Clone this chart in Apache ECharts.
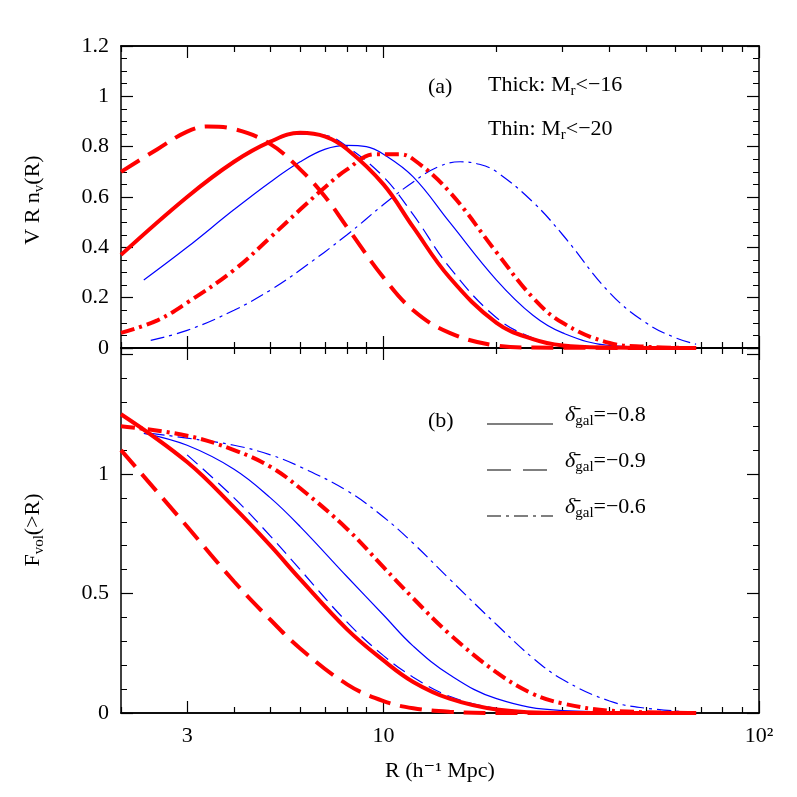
<!DOCTYPE html>
<html><head><meta charset="utf-8">
<script src="https://cdn.jsdelivr.net/npm/echarts@6/dist/echarts.min.js"></script>
<style>body{margin:0}#main{width:797px;height:797px}</style></head>
<body><div id="main"></div>
<script>
// R values (h^-1 Mpc) and curve values
var topRedSolidR = [2,3,4,5,6,7,8,10,12,15,20,25,30,40,68];
var topRedSolid  = [0.37,0.6,0.74,0.82,0.855,0.84,0.79,0.65,0.48,0.28,0.1,0.035,0.01,0.002,0];
var topRedDashR = [2,2.5,3,3.4,4,5,6,7,8,10,12,15,20,25,68];
var topRedDash  = [0.7,0.79,0.86,0.88,0.87,0.81,0.71,0.6,0.48,0.28,0.15,0.06,0.01,0.002,0];
var topRedDotR = [2,2.5,3,4,5,6,7,8,9.5,11,12,15,20,25,30,40,50,68];
var topRedDot  = [0.06,0.11,0.18,0.31,0.44,0.55,0.64,0.71,0.77,0.77,0.75,0.62,0.38,0.2,0.1,0.02,0.005,0];
var topBlueSolidR = [2.3,3,4,5,6,7,8,9,10,12,15,20,25,30,40,68];
var topBlueSolid  = [0.27,0.4,0.55,0.66,0.74,0.79,0.805,0.8,0.77,0.68,0.5,0.27,0.13,0.06,0.01,0];
var topBlueDashR = [3,4,5,6,7,8,10,12,15,20,25,30,40];
var topBlueDash  = [0.6,0.74,0.82,0.85,0.845,0.8,0.68,0.53,0.32,0.12,0.04,0.01,0.001];
var topBlueDotR = [2.4,3,4,5,6,8,10,12,14,16,18,20,25,30,40,50,60,68];
var topBlueDot  = [0.03,0.07,0.15,0.23,0.31,0.45,0.57,0.66,0.72,0.74,0.73,0.7,0.58,0.45,0.22,0.1,0.04,0.015];

var botRedSolidR = [2,3,4,5,6,8,10,12,15,20,30,68];
var botRedSolid  = [1.25,1.05,0.86,0.7,0.56,0.35,0.22,0.13,0.06,0.015,0,0];
var botRedDashR = [2,3,4,5,6,8,10,12,15,20,68];
var botRedDash  = [1.1,0.78,0.55,0.39,0.27,0.12,0.05,0.02,0.005,0,0];
var botRedDotR = [2,3,4,5,6,8,10,12,15,20,25,30,40,68];
var botRedDot  = [1.2,1.16,1.1,1.03,0.94,0.77,0.61,0.48,0.33,0.17,0.08,0.04,0.01,0];
var botBlueSolidR = [2.3,3,4,5,6,8,10,12,15,20,30,68];
var botBlueSolid  = [1.17,1.12,1.02,0.9,0.78,0.57,0.41,0.28,0.16,0.06,0.01,0];
var botBlueDashR = [3,4,5,6,8,10,12,15,20,30,68];
var botBlueDash  = [1.08,0.9,0.74,0.6,0.38,0.24,0.15,0.07,0.02,0,0];
var botBlueDotR = [2.4,3,4,5,6,8,10,12,15,20,25,30,40,50,68];
var botBlueDot  = [1.17,1.15,1.12,1.08,1.03,0.93,0.82,0.71,0.56,0.37,0.23,0.14,0.05,0.02,0.003];

var xMajor = [3, 10, 100];
var xMajorLabels = ['3', '10', '10²'];
var xMinor = [2,4,5,6,7,8,9,20,30,40,50,60,70,80,90];

var lg = Math.log10;
var FONT = '"Liberation Serif", "DejaVu Serif", serif';
var RED = '#ff0000', BLUE = '#0000ff';
var DOT = [14, 5, 3, 5], DASH = [22, 10], TDASH = [14, 7];
var SUB = { font: '15px ' + FONT, padding: [12, 0, 0, 0] };

function pts(r, v) { return r.map(function (x, i) { return [lg(x), v[i]]; }); }
function line(g, r, v, color, w, type) {
  return { type: 'line', xAxisIndex: g * 2, yAxisIndex: g * 2, data: pts(r, v), smooth: 0.4,
    showSymbol: false, silent: true, lineStyle: { color: color, width: w, type: type } };
}
function xax(g, pos, minor) {
  var vals = (minor ? xMinor : xMajor).map(lg);
  return { type: 'value', gridIndex: g, position: pos, min: lg(2), max: lg(100),
    axisLine: { show: true, onZero: false, lineStyle: { color: '#000', width: 1.5 } },
    splitLine: { show: false },
    axisTick: { inside: true, length: minor ? 6 : 12, customValues: vals, lineStyle: { color: '#000', width: 1.2 } },
    axisLabel: { show: g === 1 && pos === 'bottom' && !minor, customValues: xMajor.map(lg), margin: 12,
      color: '#000', fontFamily: FONT, fontSize: 22,
      formatter: function (v) { var i = xMajor.map(lg).findIndex(function (m) { return Math.abs(m - v) < 1e-6; }); return i >= 0 ? xMajorLabels[i] : ''; } } };
}
function yax(g, pos, max, interval, split, labels) {
  return { type: 'value', gridIndex: g, position: pos, min: 0, max: max, interval: interval,
    axisLine: { show: true, onZero: false, lineStyle: { color: '#000', width: 1.5 } },
    splitLine: { show: false },
    axisTick: { inside: true, length: 12, lineStyle: { color: '#000', width: 1.2 } },
    minorTick: { show: true, splitNumber: split, length: 6, lineStyle: { color: '#000' } },
    axisLabel: { show: labels, color: '#000', fontFamily: FONT, fontSize: 22, margin: 12,
      formatter: function (v) { return (g === 1 && v > 1.4) ? '' : String(+v.toFixed(1)); } } };
}
function legendText(y, txt) {
  return { type: 'text', left: 565, top: y, style: { text: '{d|δ̄}{s|gal}=−' + txt, font: '22px ' + FONT, fill: '#000',
    rich: { d: { font: 'italic 22px ' + FONT }, s: SUB } } };
}

var chart = echarts.init(document.getElementById('main'));
var option = {
  animation: false,
  grid: [
    { left: 121, right: 38, top: 46, height: 302 },
    { left: 121, right: 38, top: 348, height: 365 }
  ],
  xAxis: [xax(0, 'bottom', false), xax(0, 'top', false), xax(1, 'bottom', false), xax(1, 'top', false),
          xax(0, 'bottom', true), xax(0, 'top', true), xax(1, 'bottom', true), xax(1, 'top', true)],
  yAxis: [yax(0, 'left', 1.2, 0.2, 4, true), yax(0, 'right', 1.2, 0.2, 4, false),
          yax(1, 'left', 1.527, 0.5, 5, true), yax(1, 'right', 1.527, 0.5, 5, false)],
  series: [
    line(0, topBlueSolidR, topBlueSolid, BLUE, 1.2, 'solid'),
    line(0, topBlueDashR, topBlueDash, BLUE, 1.2, TDASH),
    line(0, topBlueDotR, topBlueDot, BLUE, 1.2, DOT),
    line(0, topRedSolidR, topRedSolid, RED, 4, 'solid'),
    line(0, topRedDashR, topRedDash, RED, 4, DASH),
    line(0, topRedDotR, topRedDot, RED, 4, DOT),
    line(1, botBlueSolidR, botBlueSolid, BLUE, 1.2, 'solid'),
    line(1, botBlueDashR, botBlueDash, BLUE, 1.2, TDASH),
    line(1, botBlueDotR, botBlueDot, BLUE, 1.2, DOT),
    line(1, botRedSolidR, botRedSolid, RED, 4, 'solid'),
    line(1, botRedDashR, botRedDash, RED, 4, DASH),
    line(1, botRedDotR, botRedDot, RED, 4, DOT)
  ],
  graphic: [
    { type: 'text', left: 428, top: 76, style: { text: '(a)', font: '22px ' + FONT, fill: '#000' } },
    { type: 'text', left: 488, top: 74, style: { text: 'Thick: M{s|r}<−16', font: '22px ' + FONT, fill: '#000', rich: { s: SUB } } },
    { type: 'text', left: 488, top: 118, style: { text: 'Thin: M{s|r}<−20', font: '22px ' + FONT, fill: '#000', rich: { s: SUB } } },
    { type: 'text', left: 428, top: 410, style: { text: '(b)', font: '22px ' + FONT, fill: '#000' } },
    { type: 'line', shape: { x1: 487, y1: 424, x2: 553, y2: 424 }, style: { stroke: '#000', lineWidth: 1.2 } },
    { type: 'line', shape: { x1: 487, y1: 470, x2: 553, y2: 470 }, style: { stroke: '#000', lineWidth: 1.2, lineDash: [24, 12] } },
    { type: 'line', shape: { x1: 487, y1: 516, x2: 553, y2: 516 }, style: { stroke: '#000', lineWidth: 1.2, lineDash: [14, 5, 3, 5] } },
    legendText(404, '0.8'), legendText(450, '0.9'), legendText(496, '0.6'),
    { type: 'text', x: 440, y: 760, style: { text: 'R (h⁻¹ Mpc)', font: '22px ' + FONT, fill: '#000', align: 'center' } },
    { type: 'text', x: 20, y: 200, rotation: Math.PI / 2, style: { text: 'V R n{s|v}(R)', font: '22px ' + FONT, fill: '#000', align: 'center',
        verticalAlign: 'top', rich: { s: SUB } } },
    { type: 'text', x: 20, y: 530, rotation: Math.PI / 2, style: { text: 'F{s|vol}(>R)', font: '22px ' + FONT, fill: '#000', align: 'center',
        verticalAlign: 'top', rich: { s: SUB } } }
  ]
};
chart.setOption(option);
</script></body></html>
